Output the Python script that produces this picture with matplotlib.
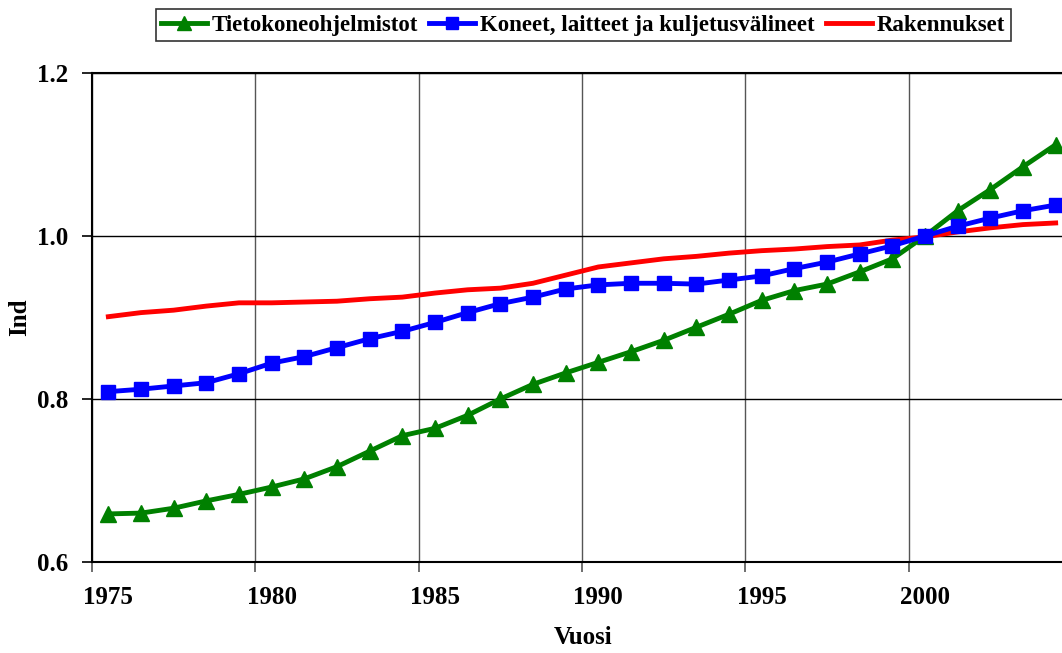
import matplotlib
matplotlib.use("Agg")
import matplotlib.pyplot as plt
from matplotlib.ticker import FixedLocator, NullFormatter

years = list(range(1975, 2005))
tieto = [0.659, 0.660, 0.666, 0.675, 0.683, 0.692, 0.702, 0.717, 0.736, 0.755,
         0.764, 0.780, 0.800, 0.818, 0.832, 0.845, 0.858, 0.872, 0.888, 0.904,
         0.921, 0.933, 0.941, 0.956, 0.972, 1.000, 1.031, 1.057, 1.085, 1.112]
koneet = [0.809, 0.812, 0.816, 0.820, 0.831, 0.844, 0.852, 0.863, 0.874, 0.883,
          0.894, 0.906, 0.917, 0.925, 0.935, 0.940, 0.942, 0.942, 0.941, 0.946,
          0.951, 0.960, 0.968, 0.978, 0.988, 1.000, 1.012, 1.022, 1.031, 1.038]
rakennukset = [0.901, 0.906, 0.909, 0.914, 0.918, 0.918, 0.919, 0.920, 0.923, 0.925,
               0.930, 0.934, 0.936, 0.942, 0.952, 0.962, 0.967, 0.972, 0.975, 0.979,
               0.982, 0.984, 0.987, 0.989, 0.995, 0.999, 1.005, 1.010, 1.014, 1.016]
labels = ["Tietokoneohjelmistot", "Koneet, laitteet ja kuljetusvälineet", "Rakennukset"]
xtick_years = [1975, 1980, 1985, 1990, 1995, 2000]
yticks = [0.6, 0.8, 1.0, 1.2]

plt.rcParams['font.family'] = ['Liberation Serif', 'DejaVu Serif']
plt.rcParams['font.weight'] = 'bold'

W, H = 1062, 653
fig = plt.figure(figsize=(W / 100, H / 100), dpi=100)
left, right, top, bottom = 92, 1072, 73, 562
ax = fig.add_axes([left / W, 1 - bottom / H, (right - left) / W, (bottom - top) / H])

pos = [y + 0.5 for y in years]  # category centres
ax.plot(pos, tieto, color='#008000', lw=3.5, marker='^', ms=11, label=labels[0], zorder=3)
ax.plot(pos, koneet, color='#0000FF', lw=3.5, marker='s', ms=10, label=labels[1], zorder=4)
ax.plot(pos, rakennukset, color='#FF0000', lw=3.5, label=labels[2], zorder=2)

ax.set_xlim(1975, 2005)
ax.set_ylim(0.6, 1.2)

ax.xaxis.set_major_locator(FixedLocator(xtick_years))
ax.xaxis.set_major_formatter(NullFormatter())
ax.xaxis.set_minor_locator(FixedLocator([y + 0.5 for y in xtick_years]))
ax.set_xticklabels([str(y) for y in xtick_years], minor=True)
ax.tick_params(axis='x', which='minor', length=0, pad=17, labelsize=18)
ax.tick_params(axis='x', which='major', length=7, width=1.2, direction='out', color='#555555')

ax.set_yticks(yticks)
ax.set_yticklabels([f"{v:.1f}" for v in yticks])
ax.tick_params(axis='y', length=7, width=1.2, direction='out', labelsize=18, pad=10)

ax.grid(True, axis='x', which='major', color='#555555', lw=1.0, zorder=1)
ax.grid(True, axis='y', color='black', lw=1.0, zorder=1)
for s in ['left', 'bottom', 'top']:
    ax.spines[s].set_linewidth(1.5)
    ax.spines[s].set_color('black')
ax.spines['right'].set_visible(False)

fig.text(583 / W, 1 - 638 / H, "Vuosi", fontsize=18, fontweight='bold', ha='center', va='center')
fig.text(20 / W, 1 - 317 / H, "Ind", fontsize=18, fontweight='bold', ha='center', va='center',
         rotation=90)

leg = fig.legend(loc='center', bbox_to_anchor=(583 / W, 1 - 25 / H), ncol=3, frameon=True,
                 fancybox=False, edgecolor='black', fontsize=16.5, handlelength=2.0,
                 handletextpad=0.2, columnspacing=0.5, borderpad=0.25, markerscale=0.9)
leg.get_frame().set_linewidth(1.2)

fig.savefig("out.png", dpi=100)
